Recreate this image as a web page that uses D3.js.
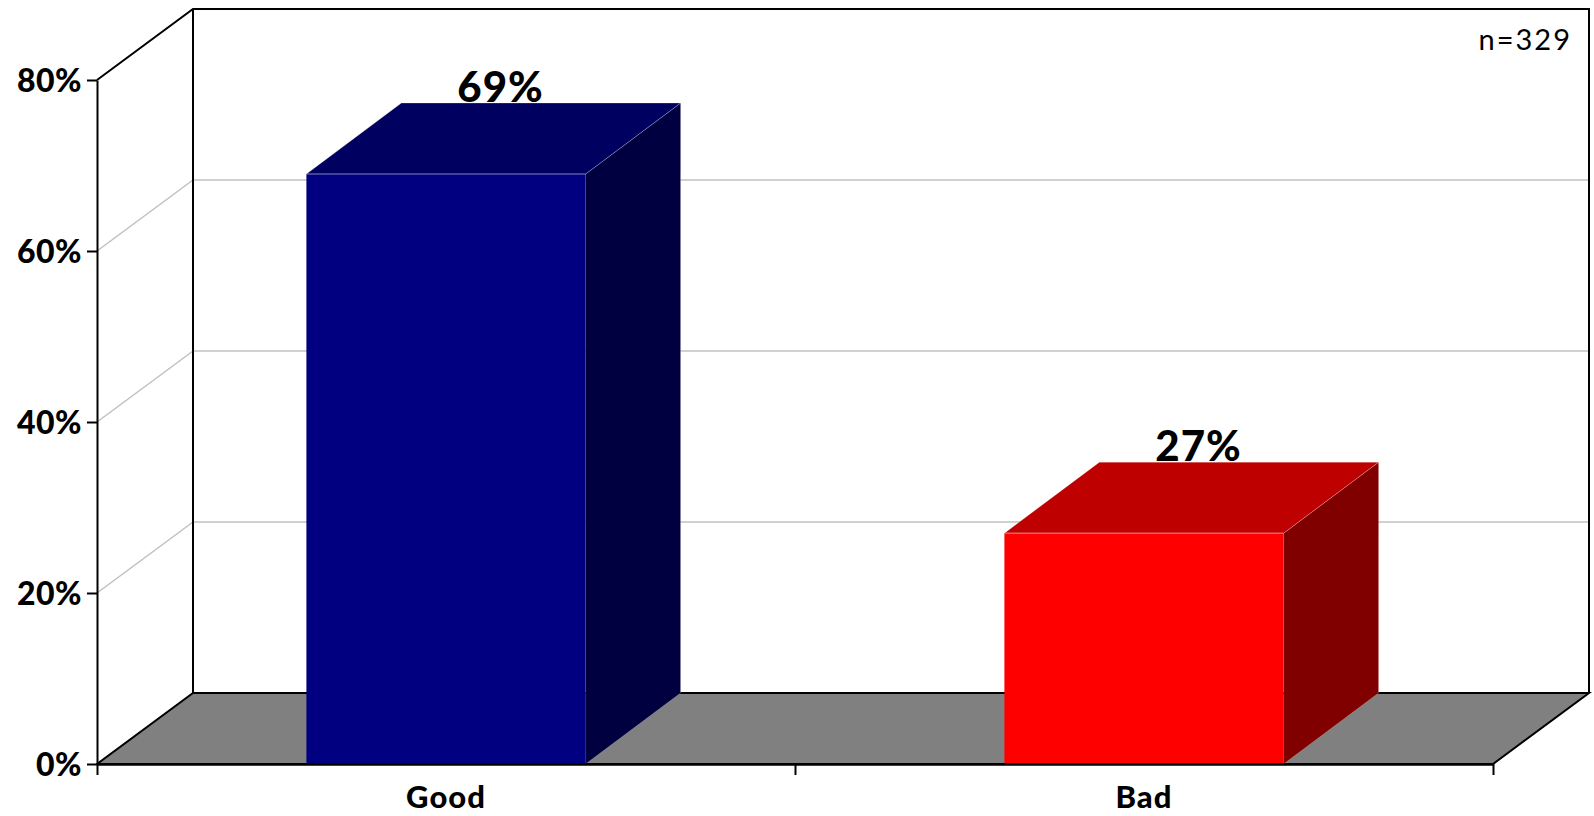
<!DOCTYPE html>
<html>
<head>
<meta charset="utf-8">
<script src="https://cdn.jsdelivr.net/npm/d3@7"></script>
<style>
  html, body { margin: 0; padding: 0; background: #fff; }
  svg { display: block; }
</style>
</head>
<body>
<svg id="chart" width="1594" height="816"></svg>
<script>
// ---- data ----
const categories = ["Good", "Bad"];
const values = [69, 27];
const frontColors = ["#000080", "#ff0000"];
const topColors = ["#000060", "#bf0000"];
const sideColors = ["#000040", "#800000"];
const yTicks = [0, 20, 40, 60, 80];
const sampleNote = "n=329";

(function () {
// ---- layout ----
const svg = d3.select("#chart");
const pLeft = 97, pRight = 1493, pBottom = 764, pTop = 80;
const dx = 96, dy = 71; // depth offset
const font = "Lato, 'DejaVu Sans', sans-serif";

const y = d3.scaleLinear().domain([0, 80]).range([pBottom, pTop]);
const x = d3.scaleBand().domain(categories).range([pLeft, pRight])
  .paddingInner(0.6).paddingOuter(0.3);

// back wall gridlines
const grid = yTicks.filter(t => t > 0 && t < 80);
svg.append("g").selectAll("line").data(grid).join("line")
  .attr("x1", pLeft + dx).attr("x2", pRight + dx)
  .attr("y1", d => y(d) - dy).attr("y2", d => y(d) - dy)
  .attr("stroke", "#c0c0c0").attr("stroke-width", 1.5);
// side wall gridlines
svg.append("g").selectAll("line").data(grid).join("line")
  .attr("x1", pLeft).attr("x2", pLeft + dx)
  .attr("y1", d => y(d)).attr("y2", d => y(d) - dy)
  .attr("stroke", "#c0c0c0").attr("stroke-width", 1.5);

// walls outline
const wall = svg.append("g").attr("fill", "none").attr("stroke", "#000").attr("stroke-width", 2);
wall.append("path").attr("d", d3.line()([
  [pLeft, y(80)], [pLeft + dx, y(80) - dy], [pRight + dx, y(80) - dy], [pRight + dx, y(0) - dy]
]));
wall.append("line").attr("x1", pLeft + dx).attr("x2", pLeft + dx)
  .attr("y1", y(80) - dy).attr("y2", y(0) - dy);

// floor
svg.append("path")
  .attr("d", d3.line()([[pLeft, y(0)], [pRight, y(0)], [pRight + dx, y(0) - dy], [pLeft + dx, y(0) - dy]]) + "Z")
  .attr("fill", "#808080").attr("stroke", "#000").attr("stroke-width", 2).attr("stroke-linejoin", "miter");

// bars
const bars = svg.append("g").selectAll("g").data(categories).join("g");
const bw = x.bandwidth();
const bdx = 95, bdy = 71;
bars.each(function(c, i) {
  const g = d3.select(this);
  const x0 = x(c), x1 = x(c) + bw, yt = y(values[i]), yb = y(0);
  // side face
  g.append("path").attr("d", d3.line()([[x1, yb], [x1 + bdx, yb - bdy], [x1 + bdx, yt - bdy], [x1, yt]]) + "Z")
    .attr("fill", sideColors[i]).attr("stroke", "rgba(255,255,255,0.25)").attr("stroke-width", 0.8);
  // top face
  g.append("path").attr("d", d3.line()([[x0, yt], [x1, yt], [x1 + bdx, yt - bdy], [x0 + bdx, yt - bdy]]) + "Z")
    .attr("fill", topColors[i]).attr("stroke", "rgba(255,255,255,0.3)").attr("stroke-width", 0.8);
  // front face
  g.append("rect").attr("x", x0).attr("y", yt).attr("width", bw).attr("height", yb - yt)
    .attr("fill", frontColors[i]);
  g.append("line").attr("x1", x0).attr("x2", x1).attr("y1", yt).attr("y2", yt)
    .attr("stroke", "rgba(255,255,255,0.4)").attr("stroke-width", 1);
  // value label
  g.append("text")
    .attr("x", x0 + bw / 2 + bdx / 2 + 7).attr("y", yt - bdy - 1)
    .attr("text-anchor", "middle")
    .attr("font-family", font).attr("font-weight", 900).attr("font-size", 42)
    .attr("letter-spacing", 1)
    .attr("fill", "#000")
    .text(values[i] + "%");
});

// y axis
const yAxis = svg.append("g").attr("transform", `translate(${pLeft},0)`)
  .call(d3.axisLeft(y).tickValues(yTicks).tickFormat(d => d + "%").tickSize(10).tickSizeOuter(0));
yAxis.select(".domain").attr("stroke-width", 2);
yAxis.selectAll(".tick line").attr("stroke-width", 2);
yAxis.selectAll(".tick text")
  .attr("x", -15).attr("dy", "0.36em")
  .attr("font-family", font).attr("font-weight", 900).attr("font-size", 32)
  .attr("letter-spacing", 0.5).attr("fill", "#000");

// x axis line + ticks at band boundaries
const xb = d3.scaleLinear().domain([0, categories.length]).range([pLeft, pRight]);
const xAxis = svg.append("g").attr("transform", `translate(0,${pBottom})`)
  .call(d3.axisBottom(xb).tickValues(d3.range(categories.length + 1)).tickFormat("").tickSize(11).tickSizeOuter(0));
xAxis.select(".domain").attr("stroke-width", 2.5);
xAxis.selectAll(".tick line").attr("stroke-width", 2);

// category labels
svg.append("g").selectAll("text").data(categories).join("text")
  .attr("x", d => x(d) + bw / 2)
  .attr("y", 808)
  .attr("text-anchor", "middle")
  .attr("font-family", font).attr("font-weight", 900).attr("font-size", 31)
  .attr("letter-spacing", 1)
  .attr("fill", "#000")
  .text(d => d);

// sample size note
svg.append("text")
  .attr("x", 1572).attr("y", 50)
  .attr("text-anchor", "end")
  .attr("font-family", font).attr("font-size", 29).attr("letter-spacing", 2)
  .attr("fill", "#000")
  .text(sampleNote);
})();
</script>
</body>
</html>
